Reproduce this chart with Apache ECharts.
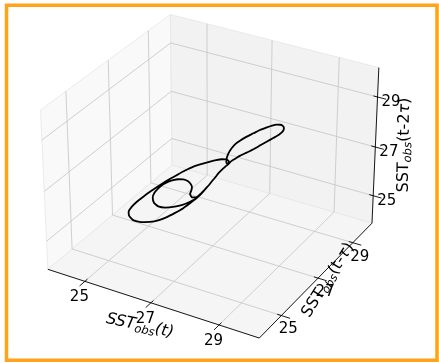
<!DOCTYPE html>
<html>
<head>
<meta charset="utf-8">
<script src="https://cdn.jsdelivr.net/npm/echarts@6.0.0/dist/echarts.min.js"></script>
<style>
  html, body { margin: 0; padding: 0; background: #fff; }
  #chart { width: 439px; height: 363px; }
</style>
</head>
<body>
<div id="chart"></div>
<script>
// delay embedding of the observed SST: (t), (t - tau), (t - 2 tau)
var sstT = [26.99, 26.91, 26.82, 26.70, 26.58, 26.42, 26.26, 26.08, 25.90, 25.70,
  25.50, 25.38, 25.34, 25.38, 25.47, 25.58, 25.72, 25.89, 26.04, 26.21,
  26.37, 26.54, 26.70, 26.89, 27.02, 27.14, 27.23, 27.29, 27.33, 27.32,
  27.28, 27.26, 27.25, 27.26, 27.30, 27.36, 27.44, 27.56, 27.70, 27.83,
  27.97, 28.08, 28.18, 28.27, 28.33, 28.37, 28.37, 28.34, 28.29, 28.19,
  28.06, 27.94, 27.81, 27.67, 27.54, 27.46, 27.38, 27.33, 27.27, 27.21,
  27.16, 27.11, 27.06, 27.02, 26.97, 26.93, 26.88, 26.79, 26.67, 26.52,
  26.34, 26.16, 25.99, 25.87, 25.80, 25.81, 25.87, 25.95, 26.06, 26.16,
  26.27, 26.39, 26.50, 26.58, 26.64, 26.65, 26.64, 26.71, 26.80, 26.89, 26.96];
var sstLag1 = [26.72, 26.60, 26.47, 26.33, 26.19, 26.04, 25.89, 25.75, 25.63, 25.52,
  25.45, 25.45, 25.49, 25.59, 25.71, 25.84, 26.00, 26.18, 26.33, 26.50,
  26.65, 26.79, 26.91, 27.05, 27.14, 27.22, 27.26, 27.28, 27.27, 27.24,
  27.23, 27.25, 27.30, 27.37, 27.46, 27.56, 27.65, 27.77, 27.90, 28.01,
  28.13, 28.21, 28.28, 28.32, 28.33, 28.32, 28.29, 28.23, 28.18, 28.08,
  27.96, 27.84, 27.71, 27.59, 27.47, 27.39, 27.32, 27.24, 27.17, 27.09,
  27.01, 26.93, 26.84, 26.76, 26.69, 26.62, 26.54, 26.43, 26.33, 26.21,
  26.08, 25.98, 25.91, 25.90, 25.95, 26.03, 26.12, 26.22, 26.32, 26.39,
  26.46, 26.52, 26.56, 26.56, 26.54, 26.49, 26.44, 26.42, 26.47, 26.57, 26.67];
var sstLag2 = [26.45, 26.28, 26.11, 25.95, 25.80, 25.65, 25.52, 25.41, 25.36, 25.35,
  25.40, 25.52, 25.64, 25.80, 25.96, 26.11, 26.28, 26.47, 26.63, 26.78,
  26.92, 27.05, 27.13, 27.21, 27.26, 27.29, 27.29, 27.27, 27.22, 27.17,
  27.19, 27.25, 27.35, 27.48, 27.63, 27.76, 27.86, 27.98, 28.09, 28.20,
  28.28, 28.34, 28.37, 28.37, 28.34, 28.28, 28.20, 28.13, 28.06, 27.97,
  27.85, 27.74, 27.62, 27.51, 27.41, 27.33, 27.25, 27.16, 27.07, 26.97,
  26.87, 26.74, 26.62, 26.51, 26.41, 26.31, 26.21, 26.08, 25.98, 25.89,
  25.83, 25.80, 25.83, 25.93, 26.09, 26.24, 26.37, 26.49, 26.58, 26.63,
  26.66, 26.66, 26.61, 26.54, 26.44, 26.34, 26.23, 26.13, 26.13, 26.25, 26.38];
var ticks = [25, 27, 29];
var tickLabels = ['25', '27', '29'];
var axisRange = [23.85, 30.15];

// 3d view (matplotlib style default camera)
var view = { elev: 30, azim: -60, dist: 10, cx: 212.8, cy: 168.8, scale: 2120 };
var aspect = [4, 4, 3];

var an = Math.sqrt(aspect[0] * aspect[0] + aspect[1] * aspect[1] + aspect[2] * aspect[2]);
var box = aspect.map(function (a) { return a / an * 1.8294640721620434; });
var er = view.elev * Math.PI / 180, ar = view.azim * Math.PI / 180;
var w = [Math.cos(er) * Math.cos(ar), Math.cos(er) * Math.sin(ar), Math.sin(er)];
var ul = Math.sqrt(w[0] * w[0] + w[1] * w[1]);
var u = [-w[1] / ul, w[0] / ul, 0];
var v = [w[1] * u[2] - w[2] * u[1], w[2] * u[0] - w[0] * u[2], w[0] * u[1] - w[1] * u[0]];

function project(x, y, z) {
  var d = [x, y, z].map(function (val, i) {
    return ((val - axisRange[0]) / (axisRange[1] - axisRange[0]) - 0.5) * box[i];
  });
  var xv = d[0] * u[0] + d[1] * u[1] + d[2] * u[2];
  var yv = d[0] * v[0] + d[1] * v[1] + d[2] * v[2];
  var zd = d[0] * w[0] + d[1] * w[1] + d[2] * w[2];
  var k = view.scale / (view.dist - zd);
  return [view.cx + k * xv, view.cy - k * yv];
}

var lo = axisRange[0], hi = axisRange[1];
var panes = [
  { c: [[lo, lo, lo], [lo, lo, hi], [lo, hi, hi], [lo, hi, lo]], color: '#f9f9f9' },
  { c: [[lo, hi, lo], [lo, hi, hi], [hi, hi, hi], [hi, hi, lo]], color: '#f2f2f2' },
  { c: [[lo, lo, lo], [hi, lo, lo], [hi, hi, lo], [lo, hi, lo]], color: '#f5f5f5' }
];

var gridSegs = [];
ticks.forEach(function (t) {
  gridSegs.push([[t, lo, lo], [t, hi, lo]], [[t, hi, lo], [t, hi, hi]]);   // x
  gridSegs.push([[lo, t, lo], [hi, t, lo]], [[lo, t, lo], [lo, t, hi]]);   // y
  gridSegs.push([[lo, lo, t], [lo, hi, t]], [[lo, hi, t], [hi, hi, t]]);   // z
});
var axisSegs = [
  [[lo, lo, lo], [hi, lo, lo]],
  [[hi, lo, lo], [hi, hi, lo]],
  [[hi, hi, lo], [hi, hi, hi]]
];
var tin = 0.12, tout = 0.25;
ticks.forEach(function (t) {
  axisSegs.push([[t, lo + tin, lo], [t, lo - tout, lo]]);
  axisSegs.push([[hi - tin, t, lo], [hi + tout, t, lo]]);
  axisSegs.push([[hi - tin, hi, t], [hi + tout, hi, t]]);
});

function segSeries(list, stroke, width, zz) {
  return {
    type: 'custom', coordinateSystem: 'cartesian2d', z: zz, silent: true,
    data: list.map(function (s) { return project(s[0][0], s[0][1], s[0][2]); }),
    renderItem: function (params, api) {
      var s = list[params.dataIndex];
      var a = api.coord(project(s[0][0], s[0][1], s[0][2]));
      var b = api.coord(project(s[1][0], s[1][1], s[1][2]));
      return { type: 'line', shape: { x1: a[0], y1: a[1], x2: b[0], y2: b[1] },
        style: { stroke: stroke, lineWidth: width } };
    }
  };
}

var font = 'DejaVu Sans';
var labelItems = [];
ticks.forEach(function (t, i) {
  labelItems.push({ p: [t, lo, lo], dx: -5.5, dy: 16, text: tickLabels[i], align: 'center' });
  labelItems.push({ p: [hi, t, lo], dx: 7, dy: 14, text: tickLabels[i], align: 'center' });
  labelItems.push({ p: [hi, hi, t], dx: 4, dy: 5.5, text: tickLabels[i], align: 'left' });
});
var mid = ticks[1];
var sub = { fontSize: 11.5, fontStyle: 'italic', fontFamily: font, padding: [8, 0, 0, 0] };
var nameItems = [
  { p: [mid, lo, lo], dx: -11, dy: 23, rot: -12,
    text: '{i|SST}{s|obs}{i|(t)}' },
  { p: [hi, mid, lo], dx: 10, dy: 2, rot: 58,
    text: '{n|SST}{s|obs}{n|(t-}{i|\u03c4}{n|)}' },
  { p: [hi, hi, mid], dx: 29, dy: -2, rot: 89,
    text: '{n|SST}{s|obs}{n|(t-2}{i|\u03c4}{n|)}' }
];

var option = {
  animation: false,
  grid: { left: 0, right: 0, top: 0, bottom: 0 },
  xAxis: { type: 'value', min: 0, max: 439, show: false },
  yAxis: { type: 'value', min: 0, max: 363, inverse: true, show: false },
  graphic: [{
    type: 'rect', z: 100, silent: true,
    shape: { x: 6.5, y: 5.3, width: 430.5, height: 355 },
    style: { fill: null, stroke: '#ffa31a', lineWidth: 3.5 }
  }],
  series: [
    {
      type: 'custom', coordinateSystem: 'cartesian2d', z: 1, silent: true,
      data: panes.map(function (p) { return project(p.c[0][0], p.c[0][1], p.c[0][2]); }),
      renderItem: function (params, api) {
        var p = panes[params.dataIndex];
        var pts = p.c.map(function (c) { return api.coord(project(c[0], c[1], c[2])); });
        return { type: 'polygon', shape: { points: pts },
          style: { fill: p.color, stroke: '#e6e6e6', lineWidth: 0.8 } };
      }
    },
    segSeries(gridSegs, '#c4c4c4', 0.8, 2),
    segSeries(axisSegs, '#000', 0.9, 3),
    {
      type: 'custom', coordinateSystem: 'cartesian2d', z: 4, silent: true,
      data: labelItems.map(function (l) { return project(l.p[0], l.p[1], l.p[2]); }),
      renderItem: function (params, api) {
        var l = labelItems[params.dataIndex];
        var a = api.coord(project(l.p[0], l.p[1], l.p[2]));
        return { type: 'text', x: a[0] + l.dx, y: a[1] + l.dy,
          style: { text: l.text, fill: '#000', fontSize: 15, fontFamily: font,
            align: l.align, verticalAlign: 'middle' } };
      }
    },
    {
      type: 'custom', coordinateSystem: 'cartesian2d', z: 4, silent: true,
      data: nameItems.map(function (l) { return project(l.p[0], l.p[1], l.p[2]); }),
      renderItem: function (params, api) {
        var l = nameItems[params.dataIndex];
        var a = api.coord(project(l.p[0], l.p[1], l.p[2]));
        return { type: 'text', x: a[0] + l.dx, y: a[1] + l.dy, rotation: l.rot * Math.PI / 180,
          style: { text: l.text, fill: '#000', align: 'center', verticalAlign: 'middle',
            rich: {
              n: { fontSize: 16, fontFamily: font },
              i: { fontSize: 16, fontFamily: font, fontStyle: 'italic' },
              s: sub
            } } };
      }
    },
    {
      type: 'line', z: 10, silent: true, showSymbol: false, smooth: 0.15,
      data: sstT.map(function (x, i) { return project(x, sstLag1[i], sstLag2[i]); }),
      lineStyle: { color: '#000', width: 1.8 }
    }
  ]
};

var chart = echarts.init(document.getElementById('chart'));
chart.setOption(option);
</script>
</body>
</html>
